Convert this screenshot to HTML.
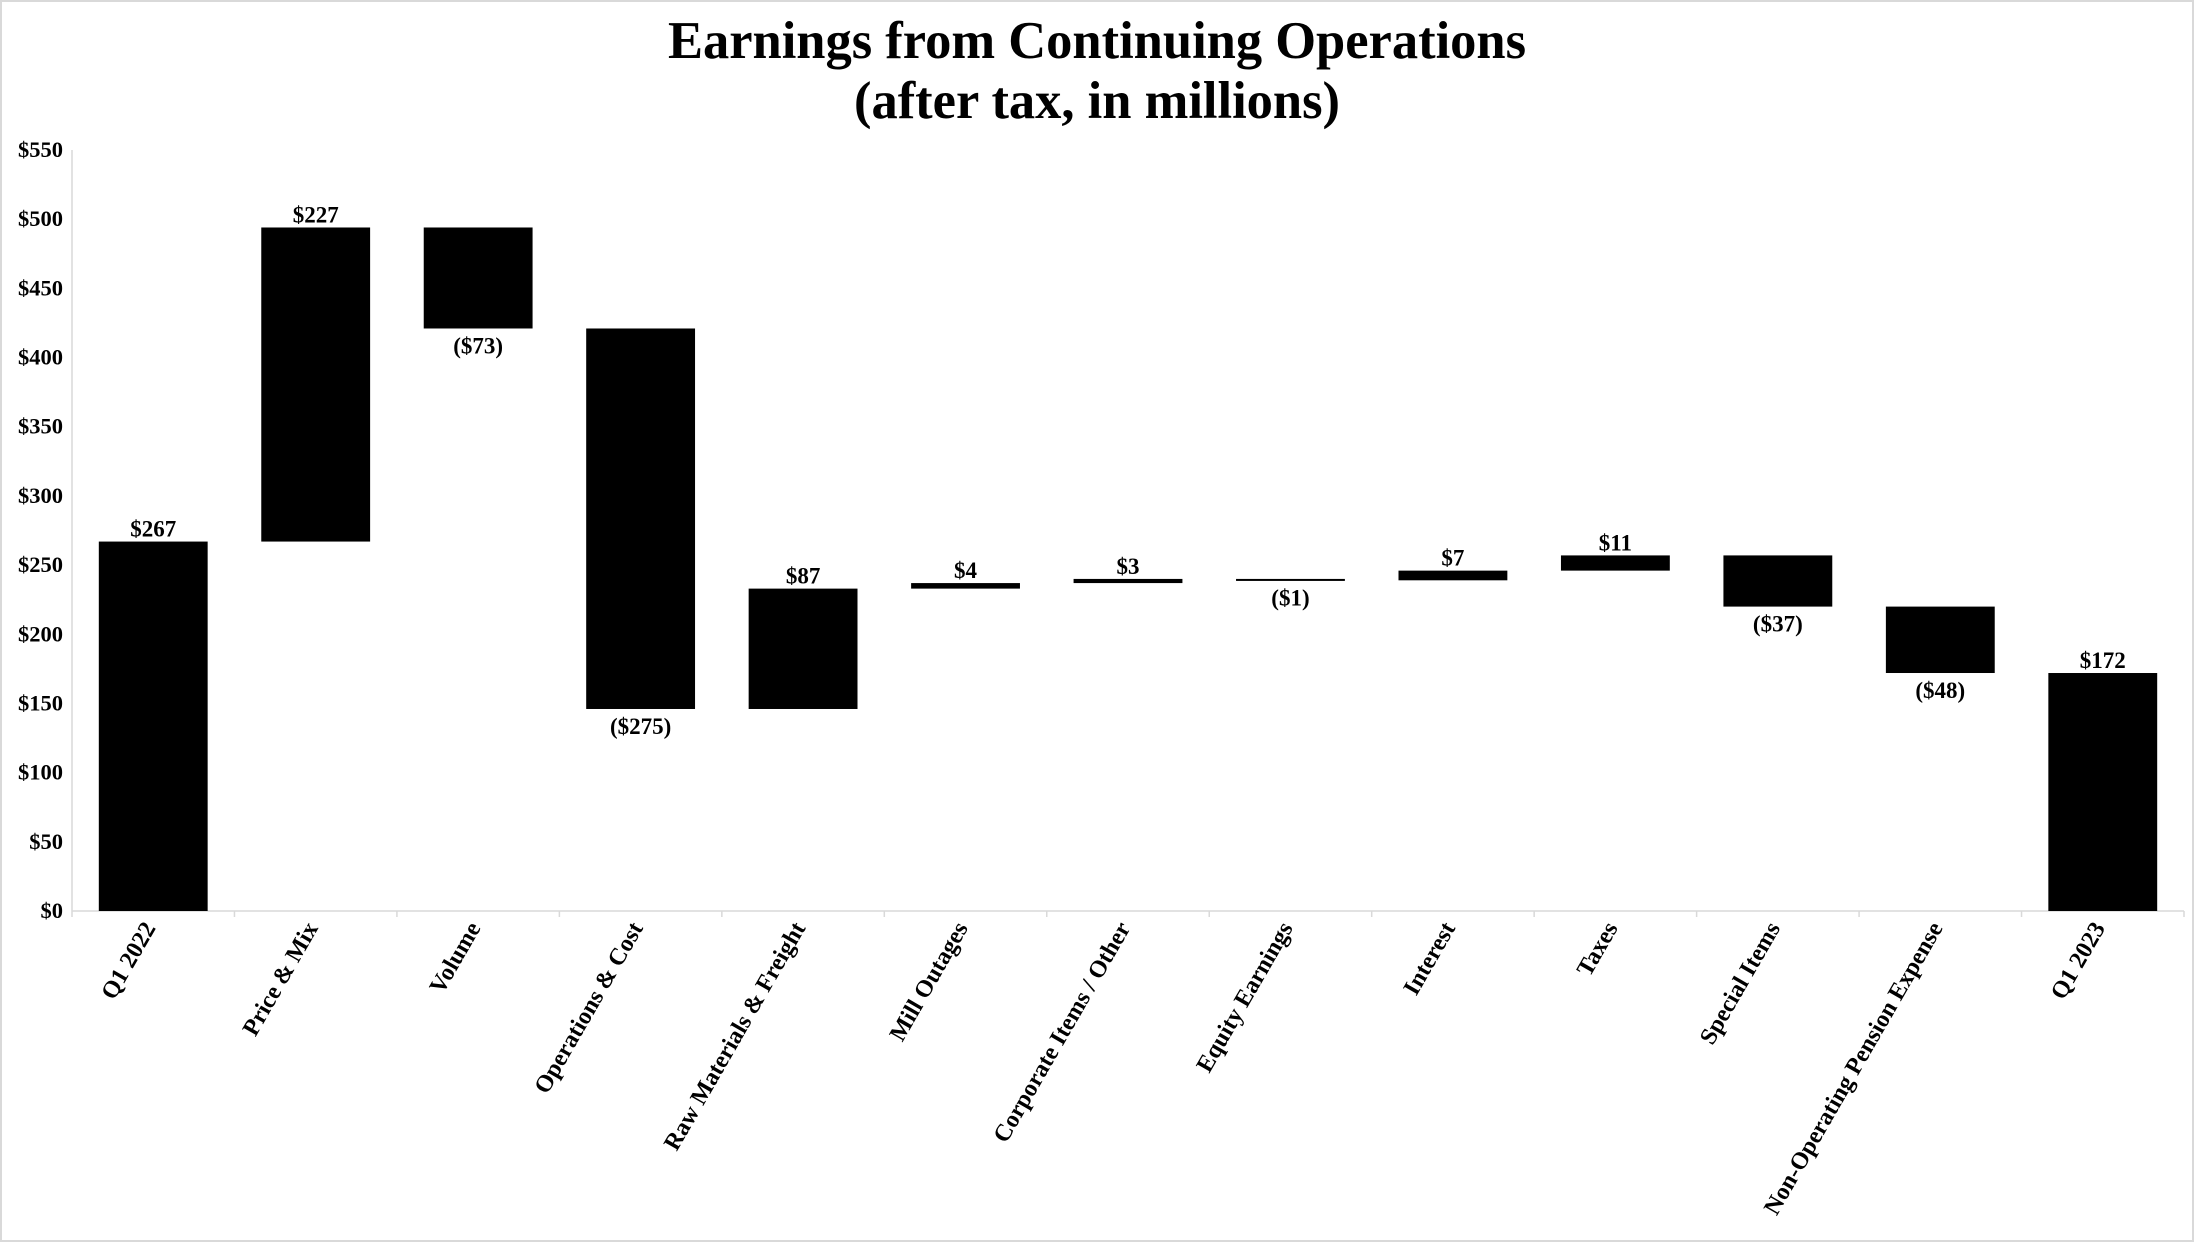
<!DOCTYPE html>
<html><head><meta charset="utf-8"><style>
html,body{margin:0;padding:0;background:#fff;}
svg{display:block;font-family:"Liberation Serif",serif;}
</style></head><body>
<svg id="chart" width="2195" height="1243" viewBox="0 0 2195 1243" xmlns="http://www.w3.org/2000/svg">
<rect x="1" y="1" width="2192" height="1240" fill="#fff" stroke="#d9d9d9" stroke-width="2"/>
<text x="1097" y="58" text-anchor="middle" font-size="52.5" font-weight="bold">Earnings from Continuing Operations</text>
<text x="1097" y="118" text-anchor="middle" font-size="52.5" font-weight="bold">(after tax, in millions)</text>
<g id="plot"></g>
</svg>
<script>
const categories = ["Q1 2022","Price & Mix","Volume","Operations & Cost","Raw Materials & Freight","Mill Outages","Corporate Items / Other","Equity Earnings","Interest","Taxes","Special Items","Non-Operating Pension Expense","Q1 2023"];
const changes = [267,227,-73,-275,87,4,3,-1,7,11,-37,-48,172];
const isTotal = [true,false,false,false,false,false,false,false,false,false,false,false,true];
const yTicks = [0,50,100,150,200,250,300,350,400,450,500,550];

const NS="http://www.w3.org/2000/svg";
const g=document.getElementById('plot');
const X0=72, X1=2184, Y0=911, Y550=150;
const band=(X1-X0)/categories.length;
const y=v=>Y0-(v/550)*(Y0-Y550);
const xc=i=>X0+band*(i+0.5);
const fmt=v=>v<0?"($"+(-v)+")":"$"+v;
function el(t,a){const e=document.createElementNS(NS,t);for(const k in a)e.setAttribute(k,a[k]);g.appendChild(e);return e;}

yTicks.forEach(t=>{
  const e=el('text',{x:63,y:y(t)+7,'text-anchor':'end','font-size':22.5,'font-weight':'bold'});
  
  
  e.textContent="$"+t;
});
const ya=el('line',{x1:X0,y1:Y550,x2:X0,y2:Y0,stroke:'#d9d9d9','stroke-width':1.5});


const xa=el('line',{x1:X0,y1:Y0,x2:X1,y2:Y0,stroke:'#d9d9d9','stroke-width':1.5});


for(let i=0;i<=categories.length;i++){
  const tk=el('line',{x1:X0+band*i,y1:Y0,x2:X0+band*i,y2:Y0+6,stroke:'#d9d9d9','stroke-width':1.5});
  
  
}
let run=0;
const bw=band*0.67;
categories.forEach((c,i)=>{
  const d=changes[i];
  let lo,hi;
  if(isTotal[i]){lo=0;hi=d;run=d;}
  else{const s=run;run=s+d;lo=Math.min(s,run);hi=Math.max(s,run);}
  const top=y(hi), h=Math.max(y(lo)-top,2);
  const r=el('rect',{x:xc(i)-bw/2,y:top,width:bw,height:h,fill:'#000'});
  
  
  const lbl=el('text',{x:xc(i),y:d<0?y(lo)+25:top-5,'text-anchor':'middle','font-size':23,'font-weight':'bold'});
  
  
  lbl.textContent=fmt(d);
  const cx=xc(i), cy=Y0+22;
  const xl=el('text',{x:cx+6,y:cy,'text-anchor':'end','font-size':24,'font-weight':'bold',transform:`rotate(-60 ${cx} ${cy})`});
  
  
  xl.textContent=c;
});
</script>
</body></html>
